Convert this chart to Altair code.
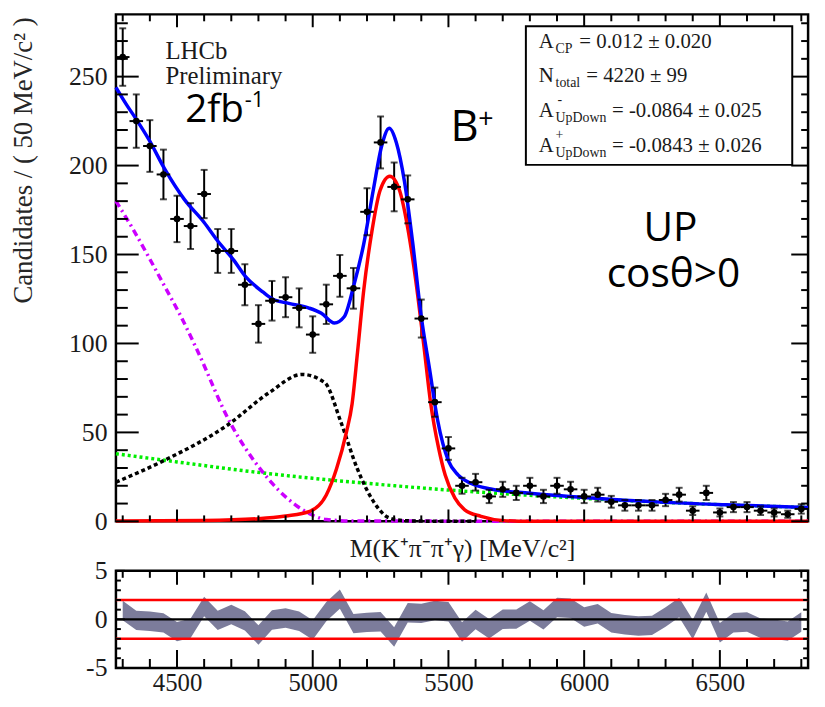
import altair as alt
import numpy as np
import pandas as pd

# ---------------- data ----------------
mass = [4300, 4350, 4400, 4450, 4500, 4550, 4600, 4650, 4700, 4750,
        4800, 4850, 4900, 4950, 5000, 5050, 5100, 5150, 5200, 5250,
        5300, 5350, 5400, 5450, 5500, 5550, 5600, 5650, 5700, 5750,
        5800, 5850, 5900, 5950, 6000, 6050, 6100, 6150, 6200, 6250,
        6300, 6350, 6400, 6450, 6500, 6550, 6600, 6650, 6700, 6750, 6800]
counts = [261, 225, 211, 195, 170, 166, 184, 152, 152, 133,
          111, 124, 126, 120, 105, 122, 138, 131, 174, 213,
          188, 181, 114, 67, 41, 20, 22, 14, 18, 16,
          20, 14, 20, 18, 14, 15, 11, 9, 9, 9,
          12, 15, 6, 16, 5, 8, 8, 6, 5, 4, 7]
pulls = [0.92, -0.10, -0.19, -0.36, -1.26, -0.92, 1.32, -0.10, 0.50, -0.15,
         -1.61, -0.07, 0.14, -0.19, -1.09, 0.80, 2.09, -0.44, -0.31, -0.24,
         -1.81, 0.68, 0.62, 0.92, 0.79, -1.30, -0.02, -0.96, 0.02, 0.03,
         0.87, -0.05, 1.23, 1.15, 0.24, 0.58, -0.34, -0.55, -0.68, -0.62,
         0.24, 1.23, -1.04, 1.78, -1.38, -0.34, -0.27, -0.91, -1.01, -1.21, -0.27]

blue_m = [4275, 4315, 4350, 4395, 4455, 4527, 4600, 4648, 4708, 4756, 4816, 4852,
          4912, 4984, 5032, 5080, 5116, 5152, 5188, 5224, 5254, 5282, 5308, 5338,
          5368, 5400, 5430, 5460, 5500, 5536, 5584, 5656, 5800, 6041, 6280, 6521, 6825]
blue_v = [244, 234, 226, 215, 198, 181, 168, 158, 147, 137, 129, 125,
          122.5, 120, 117, 111.5, 115, 133, 156, 187, 211, 221, 213, 191,
          157, 115, 86, 57, 34, 26, 21.3, 18.2, 15.8, 13, 10.8, 9.3, 7.8]

red_m = [4275, 4600, 4800, 4900, 4989, 5050, 5088, 5124, 5145, 5165, 5188, 5218,
         5248, 5284, 5320, 5350, 5380, 5410, 5434, 5464, 5488, 5524, 5560, 5620,
         5704, 5800, 6825]
red_v = [0.2, 0.5, 1.5, 3, 5.6, 14.8, 29.7, 50, 66, 95, 130, 163,
         186, 194, 186, 165, 135, 98, 67, 41, 26, 13, 6.5, 2.8,
         0.4, 0, 0]

black_m = [4275, 4455, 4683, 4840, 4960, 5044, 5104, 5164, 5224, 5284, 5350, 5500, 5600]
black_v = [22, 34.4, 53.8, 72.4, 82.6, 78, 55.7, 29.7, 11.1, 1.8, 0.3, 0, 0]

mag_m = [4275, 4335, 4396, 4455, 4515, 4575, 4695, 4815, 4936, 4996, 5050, 5150, 6825]
mag_v = [180, 165, 148.5, 132, 115, 96, 55.7, 27.8, 9.3, 3.7, 1, 0.2, 0]

green_m = [4275, 4500, 4750, 5000, 5250, 5500, 5750, 6000, 6250, 6500, 6825]
green_v = [38, 33.4, 28.4, 24.2, 20.7, 17.6, 15.1, 12.9, 11, 9.4, 7.8]

x_major = [4500, 5000, 5500, 6000, 6500]
x_minor = [4300, 4400, 4600, 4700, 4800, 4900, 5100, 5200, 5300, 5400, 5600, 5700,
           5800, 5900, 6100, 6200, 6300, 6400, 6600, 6700, 6800]
y_major = [0, 50, 100, 150, 200, 250]
y_minor = [10, 20, 30, 40, 60, 70, 80, 90, 110, 120, 130, 140, 160, 170, 180, 190,
           210, 220, 230, 240, 260, 270, 280]
yb_major = [-5, 0, 5]
yb_minor = [-4, -3, -2, -1, 1, 2, 3, 4]
ref_lines = [2, -2]
zero_line = [0]

# ---------------- derived tables ----------------
pts = pd.DataFrame({"m": mass, "n": counts})
pts["err"] = np.sqrt(pts["n"])
pts["ylo"] = pts["n"] - pts["err"]
pts["yhi"] = pts["n"] + pts["err"]
pts["xlo"] = pts["m"] - 25
pts["xhi"] = pts["m"] + 25

res = pd.DataFrame({"m": mass, "p": pulls})
res["lo"] = res["p"] - 1
res["hi"] = res["p"] + 1

W, H = 699, 512
HB = 98
SERIF = "Liberation Serif"
SANS = "Open Sans"
TXT = "#1a1a1a"

xs = alt.Scale(domain=[4275, 6825], nice=False, zero=False)
ys = alt.Scale(domain=[0, 285], nice=False, zero=False)
ybs = alt.Scale(domain=[-5, 5], nice=False, zero=False)

X_TOP = alt.Axis(
    title="M(K⁺π⁻π⁺γ) [MeV/c²]", labels=False, ticks=False, domain=False, grid=False,
    titleFont=SERIF, titleFontSize=26, titleFontWeight="normal", titleColor=TXT,
    titlePadding=14,
)
Y_TOP = alt.Axis(
    title=None, values=y_major, labelOverlap=False,
    ticks=False, domain=False, grid=False, labelFont=SERIF, labelFontSize=26,
    labelColor=TXT, labelPadding=9,
)
X_BOT = alt.Axis(
    title=None, values=x_major, format="d", labelOverlap=False, labelFlush=False,
    ticks=False, domain=False, grid=False, labelFont=SERIF, labelFontSize=25,
    labelColor=TXT, labelPadding=3,
)
Y_BOT = alt.Axis(
    title=None, values=yb_major, labelExpr="'' + datum.value", labelOverlap=False,
    labelFlush=False, ticks=False, domain=False, grid=False, labelFont=SERIF,
    labelFontSize=26, labelColor=TXT, labelPadding=9,
)


def X(f, top=True):
    return alt.X(f, type="quantitative", scale=xs, axis=X_TOP if top else X_BOT)


def Y(f):
    return alt.Y(f, type="quantitative", scale=ys, axis=Y_TOP)


def YB(f):
    return alt.Y(f, type="quantitative", scale=ybs, axis=Y_BOT)


def curve(xv, yv, color, dash=None, width=3.5):
    df = pd.DataFrame({"m": xv, "v": yv})
    kw = dict(color=color, strokeWidth=width, interpolate="monotone")
    if dash:
        kw["strokeDash"] = dash
    return alt.Chart(df).mark_line(**kw).encode(x=X("m"), y=Y("v"))


def txt(s, x, y, size, font=SERIF, align="left", color=TXT, angle=0):
    kw = dict(align=align, baseline="alphabetic", font=font, fontSize=size, color=color)
    if angle:
        kw["angle"] = angle
    return alt.Chart(pd.DataFrame({"t": [s]})).mark_text(**kw).encode(
        x=alt.value(x), y=alt.value(y), text="t:N")


def xticks(vals, height, top_len, bot_len, top=True):
    d = pd.DataFrame({"v": vals})
    r = dict(color="black", strokeWidth=2)
    a = alt.Chart(d).mark_rule(**r).encode(
        x=X("v", top), y=alt.value(height), y2=alt.value(height - bot_len))
    b = alt.Chart(d).mark_rule(**r).encode(
        x=X("v", top), y=alt.value(0), y2=alt.value(top_len))
    return [a, b]


def yticks(vals, yenc, left_len, right_len):
    d = pd.DataFrame({"v": vals})
    r = dict(color="black", strokeWidth=2)
    a = alt.Chart(d).mark_rule(**r).encode(
        y=yenc("v"), x=alt.value(0), x2=alt.value(left_len))
    b = alt.Chart(d).mark_rule(**r).encode(
        y=yenc("v"), x=alt.value(W), x2=alt.value(W - right_len))
    return [a, b]


base = alt.Chart(pts)
vbars = base.mark_rule(color="black", strokeWidth=2).encode(
    x=X("m"), y=Y("ylo"), y2="yhi")
hbars = base.mark_rule(color="black", strokeWidth=2).encode(
    x=X("xlo"), x2="xhi", y=Y("n"))
caps = base.mark_tick(color="black", orient="horizontal", size=7, thickness=2).encode(
    x=X("m"), y=Y("yhi"))
caps2 = base.mark_tick(color="black", orient="horizontal", size=7, thickness=2).encode(
    x=X("m"), y=Y("ylo"))
dots = base.mark_point(filled=True, color="black", size=45, opacity=1).encode(
    x=X("m"), y=Y("n"))

box = alt.Chart(pd.DataFrame({"a": [0]})).mark_rect(
    fill="white", stroke="black", strokeWidth=2).encode(
    x=alt.value(414), x2=alt.value(683), y=alt.value(12), y2=alt.value(152))

texts = [
    txt("Candidates / ( 50 MeV/c² )", -85, 3, 27, color="#262626", align="right", angle=270),
    txt("LHCb", 50, 45, 25),
    txt("Preliminary", 50, 70, 25),
    txt("2fb", 70, 109, 39, font=SANS, color="black"),
    txt("-1", 130, 94, 22, font=SANS, color="black"),
    txt("B", 338, 128, 44, font=SANS, color="black"),
    txt("+", 366, 115, 27, font=SANS, color="black"),
    txt("UP", 560, 229, 41, font=SANS, align="center", color="black"),
    txt("cosθ>0", 563, 275, 41, font=SANS, align="center", color="black"),
    txt("A", 427, 33.7, 21), txt("CP", 444, 38.7, 14), txt("=  0.012 ± 0.020", 468, 33.7, 21),
    txt("N", 427, 68, 21), txt("total", 444, 73.7, 14), txt("=  4220 ± 99", 475, 68, 21),
    txt("A", 427, 103.7, 21), txt("-", 446, 91, 14), txt("UpDown", 444, 108.7, 14),
    txt("= -0.0864 ± 0.025", 501, 103.7, 21),
    txt("A", 427, 138.7, 21), txt("+", 444, 126, 14), txt("UpDown", 444, 143.7, 14),
    txt("= -0.0843 ± 0.026", 501, 138.7, 21),
]

top_ticks = (xticks(x_major, H, 13, 12) + xticks(x_minor, H, 7, 6)
             + yticks(y_major, Y, 23, 17) + yticks(y_minor, Y, 12, 7))

top = alt.layer(
    vbars,
    curve(green_m, green_v, "#00ee00", dash=[3, 3], width=3.5),
    curve(mag_m, mag_v, "#cc00ff", dash=[7, 4, 2, 4], width=3.5),
    curve(black_m, black_v, "black", dash=[4, 3], width=3.5),
    curve(red_m, red_v, "#ff0000", width=3.5),
    curve(blue_m, blue_v, "#0000ff", width=3.5),
    hbars, caps, caps2, dots, *top_ticks, box, *texts,
).properties(width=W, height=H)

# ---------------- residual panel ----------------
band = alt.Chart(res).mark_area(color="#7c7c9b", opacity=1, interpolate="linear").encode(
    x=X("m", top=False), y=YB("lo"), y2="hi")
reds = alt.Chart(pd.DataFrame({"y": ref_lines})).mark_rule(color="#ff0000", strokeWidth=2.5).encode(
    y=YB("y"))
zero = alt.Chart(pd.DataFrame({"y": zero_line})).mark_rule(color="black", strokeWidth=2.5).encode(
    y=YB("y"))

bot_ticks = (xticks(x_major, HB, 14, 18, top=False) + xticks(x_minor, HB, 7, 9, top=False)
             + yticks(yb_major, YB, 9, 9) + yticks(yb_minor, YB, 5, 5))

bottom = alt.layer(band, reds, zero, *bot_ticks).properties(width=W, height=HB)

chart = alt.vconcat(top, bottom, spacing=50, bounds="flush").properties(
    padding={"left": 0, "top": 0, "right": 0, "bottom": 0}
).configure_view(stroke="black", strokeWidth=2.5)

chart.save("out.html", embed_options={"renderer": "svg", "actions": False})
